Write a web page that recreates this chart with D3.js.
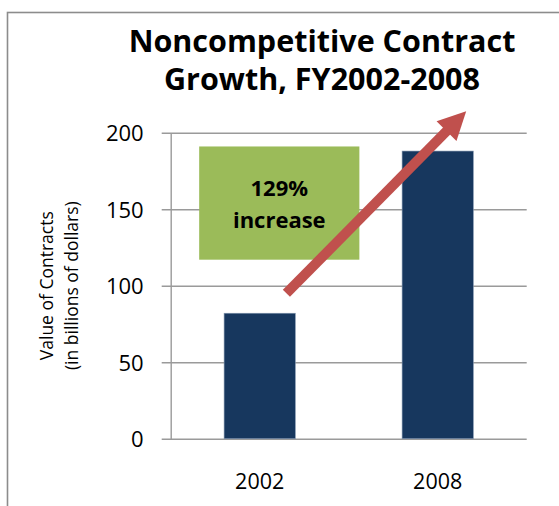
<!DOCTYPE html>
<html>
<head>
<meta charset="utf-8">
<script src="https://cdn.jsdelivr.net/npm/d3@7"></script>
<style>
  body { margin: 0; background: #fff; }
  svg { display: block; font-family: 'Open Sans', 'Noto Sans', sans-serif; }
</style>
</head>
<body>
<div id="chart"></div>
<script>
// Data
const categories = ['2002', '2008'];
const values = [82, 188];
const yTicks = [0, 50, 100, 150, 200];
const titleLines = ['Noncompetitive Contract', 'Growth, FY2002-2008'];
const yTitleLines = ['Value of Contracts', '(in billions of dollars)'];
const calloutLines = ['129%', 'increase'];

const width = 559;
const height = 506;
const margin = { top: 132.7, right: 32.3, bottom: 67.3, left: 170.7 };
const chartWidth = width - margin.left - margin.right;
const chartHeight = height - margin.top - margin.bottom;

const colors = {
  bar: '#17375E',
  callout: '#9BBB59',
  arrow: '#C0504D',
  grid: '#9a9a9a',
  text: '#000',
};

const root = d3
  .select('#chart')
  .append('svg')
  .attr('width', width)
  .attr('height', height);

root.append('rect').attr('width', width).attr('height', height).attr('fill', '#fff');

// chart area frame (runs off the right and bottom edges)
root
  .append('rect')
  .attr('x', 7.5)
  .attr('y', 12.5)
  .attr('width', 700)
  .attr('height', 700)
  .attr('fill', 'none')
  .attr('stroke', '#8c8c8c')
  .attr('stroke-width', 1.6);

const x = d3
  .scaleBand()
  .domain(categories)
  .range([0, chartWidth])
  .paddingInner(0.6)
  .paddingOuter(0.3);

const y = d3
  .scaleLinear()
  .domain([0, 200])
  .range([chartHeight, 0]);

// position along the categories: 0 = centre of first bar, 1 = centre of second
const xPos = d3
  .scaleLinear()
  .domain([0, 1])
  .range([x(categories[0]) + x.bandwidth() / 2, x(categories[1]) + x.bandwidth() / 2]);

const svg = root
  .append('g')
  .attr('transform', `translate(${margin.left}, ${margin.top})`);

// title
root
  .append('text')
  .attr('x', 322)
  .attr('text-anchor', 'middle')
  .style('font-size', '30.5px')
  .style('font-weight', '700')
  .attr('fill', colors.text)
  .selectAll('tspan')
  .data(titleLines)
  .enter()
  .append('tspan')
  .attr('x', 322)
  .attr('y', (d, i) => 52 + i * 38)
  .text(d => d);

// y axis + gridlines
const yG = svg.append('g').call(
  d3.axisLeft(y)
    .tickValues(yTicks)
    .tickSize(9)
    .tickSizeOuter(0)
);
yG.select('.domain').attr('stroke', colors.grid).attr('stroke-width', 1.4);
yG.selectAll('.tick line')
  .attr('x1', -9)
  .attr('x2', chartWidth)
  .attr('stroke', colors.grid)
  .attr('stroke-width', 1.4);
yG.selectAll('.tick text')
  .attr('x', -27)
  .attr('dy', '0.36em')
  .style('font-size', '22px')
  .style('font-family', "'Open Sans', sans-serif")
  .attr('fill', colors.text);

// y axis title
root
  .append('text')
  .attr('transform', `translate(0, ${margin.top + chartHeight / 2}) rotate(-90)`)
  .attr('text-anchor', 'middle')
  .style('font-size', '17.5px')
  .attr('fill', colors.text)
  .selectAll('tspan')
  .data(yTitleLines)
  .enter()
  .append('tspan')
  .attr('x', 0)
  .attr('y', (d, i) => 53 + i * 25)
  .text(d => d);

// x axis labels
const xG = svg
  .append('g')
  .attr('transform', `translate(0, ${chartHeight})`)
  .call(d3.axisBottom(x).tickSize(0).tickSizeOuter(0));
xG.select('.domain').remove();
xG.selectAll('text')
  .attr('y', 50)
  .attr('dy', 0)
  .style('font-size', '21.5px')
  .style('font-family', "'Open Sans', sans-serif")
  .attr('fill', colors.text);

// bars
svg
  .selectAll('rect.bar')
  .data(categories.map((c, i) => ({ label: c, value: values[i] })))
  .enter()
  .append('rect')
  .attr('class', 'bar')
  .attr('x', d => x(d.label))
  .attr('y', d => y(d.value))
  .attr('width', x.bandwidth())
  .attr('height', d => chartHeight - y(d.value))
  .attr('fill', colors.bar)
  .attr('stroke', '#7f93ad')
  .attr('stroke-width', 0.6);

// callout box
const boxX = [-0.34, 0.56];
const boxY = [117, 191];
svg
  .append('rect')
  .attr('x', xPos(boxX[0]))
  .attr('y', y(boxY[1]))
  .attr('width', xPos(boxX[1]) - xPos(boxX[0]))
  .attr('height', y(boxY[0]) - y(boxY[1]))
  .attr('fill', colors.callout);

svg
  .append('text')
  .attr('text-anchor', 'middle')
  .style('font-size', '22px')
  .style('font-weight', '700')
  .attr('fill', colors.text)
  .selectAll('tspan')
  .data(calloutLines)
  .enter()
  .append('tspan')
  .attr('x', (xPos(boxX[0]) + xPos(boxX[1])) / 2)
  .attr('y', (d, i) => 196 - margin.top + i * 32)
  .text(d => d);

// growth arrow
const from = [xPos(0.15), y(95)];
const tip = [xPos(1.16), y(214)];
const ang = Math.atan2(tip[1] - from[1], tip[0] - from[0]);
const headLen = 28;
const headHalf = 14;
const base = [tip[0] - headLen * Math.cos(ang), tip[1] - headLen * Math.sin(ang)];
const nx = -Math.sin(ang);
const ny = Math.cos(ang);

svg
  .append('line')
  .attr('x1', from[0])
  .attr('y1', from[1])
  .attr('x2', base[0] + 2 * Math.cos(ang))
  .attr('y2', base[1] + 2 * Math.sin(ang))
  .attr('stroke', colors.arrow)
  .attr('stroke-width', 10);

svg
  .append('path')
  .attr('d', d3.line()([
    tip,
    [base[0] + nx * headHalf, base[1] + ny * headHalf],
    [base[0] - nx * headHalf, base[1] - ny * headHalf],
  ]) + 'Z')
  .attr('fill', colors.arrow);
</script>
</body>
</html>
